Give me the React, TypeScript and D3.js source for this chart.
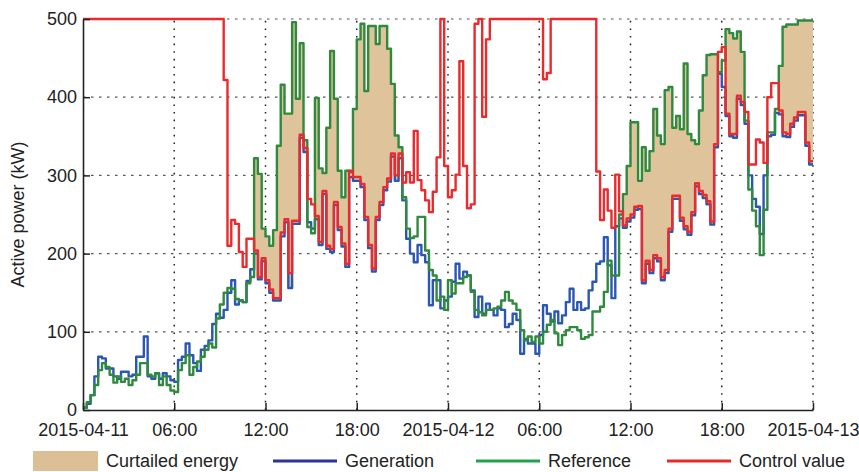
import React, { useRef, useEffect } from 'react';
import * as d3 from 'd3';

// x axis: hours since 2015-04-11 00:00
const hourTicks = [0, 6, 12, 18, 24, 30, 36, 42, 48];
const hourTickLabels = ['2015-04-11', '06:00', '12:00', '18:00', '2015-04-12', '06:00', '12:00', '18:00', '2015-04-13'];
const powerTicks = [0, 100, 200, 300, 400, 500];

// 15-minute values in kW (192 slots, one row = 6 hours)
const generation = [
  3, 8, 19, 43, 68, 66, 53, 53, 43, 40, 49, 49, 43, 45, 68, 68, 94, 43, 40, 47, 40, 47, 43, 38,
  36, 64, 68, 85, 70, 60, 50, 77, 82, 89, 110, 123, 118, 128, 150, 166, 135, 140, 138, 165, 180, 200, 167, 190,
  162, 150, 140, 140, 222, 240, 156, 238, 238, 348, 330, 240, 232, 244, 211, 276, 206, 202, 262, 230, 209, 183, 298, 293,
  293, 285, 243, 207, 177, 243, 262, 281, 292, 324, 293, 322, 268, 219, 200, 189, 211, 198, 189, 134, 166, 166, 130, 140,
  145, 164, 187, 168, 177, 172, 153, 119, 145, 123, 136, 128, 121, 130, 128, 106, 110, 123, 115, 72, 91, 85, 85, 72,
  96, 134, 123, 113, 126, 111, 121, 138, 155, 128, 138, 128, 130, 153, 164, 187, 190, 221, 185, 143, 235, 245, 233, 241,
  246, 256, 257, 162, 187, 175, 194, 190, 166, 175, 228, 270, 270, 242, 231, 224, 249, 286, 276, 271, 263, 237, 336, 430,
  413, 376, 350, 348, 398, 390, 366, 300, 270, 260, 225, 300, 350, 352, 380, 378, 350, 349, 362, 370, 377, 377, 338, 314,
];

const reference = [
  3, 10, 19, 32, 51, 60, 55, 45, 35, 43, 36, 40, 32, 38, 45, 60, 60, 45, 43, 47, 32, 43, 32, 25,
  23, 51, 60, 70, 45, 55, 62, 68, 77, 85, 80, 117, 135, 150, 156, 155, 142, 140, 138, 162, 170, 322, 302, 232,
  222, 210, 230, 338, 416, 379, 379, 496, 398, 469, 345, 234, 226, 399, 309, 303, 361, 459, 398, 306, 272, 306, 304, 385,
  474, 494, 408, 491, 491, 468, 491, 491, 462, 417, 351, 336, 272, 232, 220, 222, 247, 247, 204, 179, 172, 140, 145, 128,
  166, 149, 162, 162, 170, 172, 151, 128, 125, 121, 128, 128, 130, 132, 140, 151, 140, 136, 128, 102, 89, 94, 87, 94,
  85, 100, 109, 115, 98, 83, 96, 102, 106, 106, 102, 91, 93, 96, 126, 126, 132, 151, 191, 172, 172, 250, 276, 312,
  368, 368, 293, 336, 306, 331, 385, 351, 340, 409, 413, 361, 376, 359, 443, 353, 345, 340, 383, 428, 454, 455, 455, 432,
  447, 487, 482, 475, 484, 458, 370, 282, 255, 235, 198, 256, 355, 355, 385, 440, 490, 493, 493, 493, 498, 498, 498, 498,
];

const controlValue = [
  500, 500, 500, 500, 500, 500, 500, 500, 500, 500, 500, 500, 500, 500, 500, 500, 500, 500, 500, 500, 500, 500, 500, 500,
  500, 500, 500, 500, 500, 500, 500, 500, 500, 500, 500, 500, 500, 422, 210, 243, 238, 202, 183, 219, 219, 204, 170, 194,
  166, 154, 143, 143, 227, 244, 175, 242, 242, 352, 335, 270, 263, 248, 215, 280, 210, 206, 266, 234, 213, 187, 306, 298,
  298, 289, 247, 211, 181, 247, 266, 285, 296, 328, 300, 328, 291, 304, 291, 357, 294, 281, 268, 253, 279, 323, 500, 312,
  272, 281, 301, 446, 312, 258, 263, 494, 500, 375, 474, 500, 500, 500, 500, 500, 500, 500, 500, 500, 500, 500, 500, 500,
  500, 423, 431, 500, 500, 500, 500, 500, 500, 500, 500, 500, 500, 500, 500, 305, 243, 282, 255, 233, 301, 254, 236, 245,
  250, 260, 261, 166, 191, 179, 198, 194, 170, 179, 232, 274, 274, 246, 235, 228, 253, 290, 280, 275, 267, 241, 340, 458,
  464, 379, 353, 353, 402, 394, 381, 314, 314, 346, 342, 316, 400, 418, 418, 383, 355, 353, 366, 374, 381, 381, 342, 318,
];

const FONT = '"Liberation Sans", Arial, Helvetica, sans-serif';
const colors = {
  fill: '#dfc39b',
  generation: '#2a56b4',
  reference: '#2f8a3e',
  control: '#ea2a2c',
};

const App = () => {
  const svgRef = useRef(null);

  useEffect(() => {
    const width = 859;
    const height = 472;
    const margin = { top: 19, right: 46, bottom: 62, left: 83 };
    const step = 0.25; // hours per value

    const svg = d3.select(svgRef.current);
    svg.selectAll('*').remove();

    const x = d3.scaleLinear().domain([0, 48]).range([margin.left, width - margin.right]);
    const y = d3.scaleLinear().domain([0, 500]).range([height - margin.bottom, margin.top]);

    // step series: one point per slot start, plus the end of the last slot
    const toPoints = (vals: number[]) => [
      ...vals.map((v, i) => [i * step, v] as [number, number]),
      [vals.length * step, vals[vals.length - 1]] as [number, number],
    ];

    // grid
    const grid = svg.append('g');
    grid.selectAll('.vgrid')
      .data(hourTicks.slice(1))
      .join('line')
      .attr('x1', (d) => x(d)).attr('x2', (d) => x(d))
      .attr('y1', y(0)).attr('y2', y(500))
      .attr('stroke', '#222').attr('stroke-width', 1.5)
      .attr('stroke-dasharray', '1.6,6');
    grid.selectAll('.hgrid')
      .data(powerTicks.slice(1))
      .join('line')
      .attr('x1', x(0)).attr('x2', x(48))
      .attr('y1', (d) => y(d)).attr('y2', (d) => y(d))
      .attr('stroke', '#555').attr('stroke-width', 1.2)
      .attr('stroke-dasharray', '2.5,5.5');

    // curtailed energy: between reference and generation while control value limits output
    const fillRows = reference.map((r, i) => {
      const g = generation[i];
      const curtailed = r > g && controlValue[i] < r;
      return { t: i * step, lo: g, hi: curtailed ? r : g };
    });
    fillRows.push({ ...fillRows[fillRows.length - 1], t: reference.length * step });
    const area = d3.area<any>()
      .x((d) => x(d.t))
      .y0((d) => y(d.lo))
      .y1((d) => y(d.hi))
      .curve(d3.curveStepAfter);
    svg.append('path')
      .datum(fillRows)
      .attr('fill', colors.fill)
      .attr('d', area);

    const line = d3.line<[number, number]>()
      .x((d) => x(d[0]))
      .y((d) => y(d[1]))
      .curve(d3.curveStepAfter);

    const series = [
      { vals: generation, color: colors.generation },
      { vals: reference, color: colors.reference },
      { vals: controlValue, color: colors.control },
    ];
    series.forEach((s) => {
      svg.append('path')
        .datum(toPoints(s.vals))
        .attr('fill', 'none')
        .attr('stroke', s.color)
        .attr('stroke-width', 2.4)
        .attr('stroke-linejoin', 'round')
        .attr('d', line);
    });

    // axes
    const yAxis = d3.axisLeft(y).tickValues(powerTicks).tickSizeInner(-7).tickSizeOuter(0).tickPadding(6);
    const xAxis = d3.axisBottom(x)
      .tickValues(hourTicks)
      .tickFormat((d, i) => hourTickLabels[i])
      .tickSizeInner(-7).tickSizeOuter(0).tickPadding(13);

    const gy = svg.append('g')
      .attr('transform', `translate(${margin.left},0)`)
      .call(yAxis);
    const gx = svg.append('g')
      .attr('transform', `translate(0,${height - margin.bottom})`)
      .call(xAxis);
    [gx, gy].forEach((g) => {
      g.attr('font-family', FONT).attr('font-size', 18);
      g.select('.domain').attr('stroke', '#222').attr('stroke-width', 1.6);
      g.selectAll('.tick line').attr('stroke', '#222').attr('stroke-width', 1.5);
      g.selectAll('.tick text').attr('fill', '#222');
    });

    svg.append('text')
      .attr('transform', `translate(24,${(y(0) + y(500)) / 2}) rotate(-90)`)
      .attr('text-anchor', 'middle')
      .attr('font-family', FONT)
      .attr('font-size', 18)
      .attr('fill', '#222')
      .text('Active power (kW)');

    // legend
    const legend = svg.append('g').attr('font-family', FONT).attr('font-size', 18).attr('fill', '#222');
    legend.append('rect')
      .attr('x', 33).attr('y', 451).attr('width', 65).attr('height', 20)
      .attr('fill', '#dcbf94');
    legend.append('text').attr('x', 106).attr('y', 467).text('Curtailed energy');

    const legendLines = [
      { x: 273, label: 'Generation', color: '#2c339c' },
      { x: 476, label: 'Reference', color: '#22a150' },
      { x: 667, label: 'Control value', color: '#e82a2a' },
    ];
    legendLines.forEach((l) => {
      legend.append('line')
        .attr('x1', l.x).attr('x2', l.x + 64)
        .attr('y1', 461).attr('y2', 461)
        .attr('stroke', l.color).attr('stroke-width', 3);
      legend.append('text').attr('x', l.x + 72).attr('y', 467).text(l.label);
    });
  }, []);

  return (
    <svg
      ref={svgRef}
      width={859}
      height={472}
      style={{ position: 'absolute', left: 0, top: 0, background: '#fff' }}
    />
  );
};

export default App;
